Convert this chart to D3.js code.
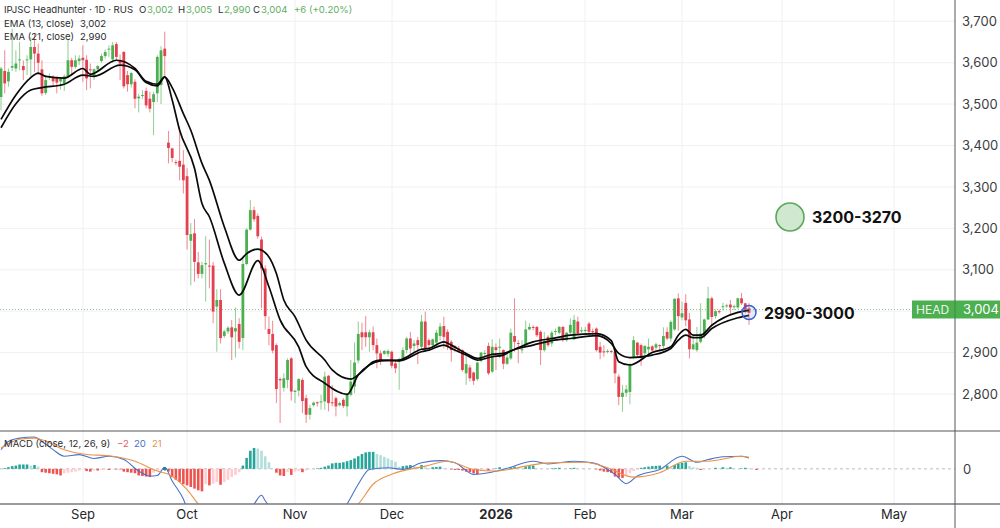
<!DOCTYPE html>
<html><head><meta charset="utf-8">
<script src="https://cdn.jsdelivr.net/npm/d3@7/dist/d3.min.js"></script>
<style>html,body{margin:0;padding:0;background:#fff}svg{display:block}text{font-family:Inter,"Liberation Sans",sans-serif}</style>
</head><body><svg id="c" width="1000" height="528"></svg>
<script>
const opens=[3517,3580,3555,3588,3586,3606,3592,3606,3608,3638,3622,3584,3527,3565,3566,3564,3555,3550,3567,3606,3590,3604,3612,3607,3584,3566,3584,3604,3616,3632,3608,3645,3606,3626,3570,3548,3554,3514,3520,3532,3513,3505,3526,3546,3634,3407,3393,3360,3363,3354,3326,3170,3188,3118,3090,3113,3110,3110,3011,3027,2940,2951,2961,2951,2969,2935,3114,3197,3244,3230,3173,3103,2957,2945,2918,2836,2815,2834,2886,2805,2808,2834,2790,2750,2773,2780,2780,2782,2844,2780,2790,2773,2786,2770,2798,2818,2881,2949,2949,2937,2949,2918,2898,2897,2897,2902,2874,2878,2884,2906,2934,2916,2930,2914,2975,2930,2918,2924,2940,2964,2950,2926,2915,2910,2906,2850,2864,2852,2836,2880,2898,2916,2854,2913,2912,2906,2873,2886,2940,2923,2906,2918,2956,2962,2962,2950,2906,2938,2922,2950,2948,2962,2930,2948,2932,2975,2952,2952,2970,2952,2958,2914,2903,2902,2904,2902,2842,2793,2803,2805,2890,2924,2918,2898,2908,2915,2912,2918,2916,2950,2934,2956,3031,2985,3020,2980,2908,2906,2926,2942,2980,3031,2988,3000,3010,3012,3016,3010,3009,3031,3019,3007];
const highs=[3590,3630,3586,3682,3630,3650,3606,3618,3662,3672,3646,3606,3570,3574,3570,3567,3565,3572,3655,3612,3618,3618,3642,3618,3598,3586,3594,3622,3632,3642,3650,3650,3620,3628,3580,3578,3560,3525,3534,3540,3530,3530,3618,3640,3675,3435,3395,3366,3445,3389,3345,3213,3222,3143,3119,3181,3173,3119,3053,3053,2955,2964,2979,3009,2983,3127,3200,3268,3252,3236,3180,3111,2987,2977,2922,2840,2850,2886,2889,2810,2838,2838,2798,2774,2782,2782,2798,2854,2846,2822,2794,2782,2790,2802,2882,2924,2975,2972,2988,2955,2963,2934,2905,2906,2908,2905,2882,2888,2913,2938,2950,2930,2938,2991,2999,2934,2934,2955,2972,2987,2956,2930,2918,2916,2908,2898,2870,2854,2878,2902,2906,2924,2932,2922,2934,2908,2902,2958,3031,2930,2930,2977,2971,2966,2964,2954,2950,2942,2953,2958,2964,2964,2950,2983,2991,2987,2962,2962,2974,2958,2961,2926,2918,2908,2906,2906,2848,2822,2822,2875,2940,2926,2922,2918,2934,2918,2924,2920,2961,2961,2978,3031,3043,3023,3041,2996,2942,2962,3019,2982,3059,3035,3004,3004,3020,3018,3027,3016,3033,3044,3020,3020];
const lows=[3485,3526,3542,3580,3578,3582,3558,3570,3566,3578,3570,3520,3522,3558,3542,3526,3535,3532,3562,3570,3586,3594,3554,3534,3538,3558,3578,3600,3610,3614,3600,3606,3558,3538,3530,3540,3490,3480,3513,3490,3480,3425,3505,3500,3565,3357,3360,3352,3316,3284,3149,3062,3071,3079,3079,3023,3055,2971,2902,2922,2935,2945,2882,2888,2910,2906,3111,3195,3216,3175,3007,2956,2918,2898,2778,2730,2806,2814,2784,2778,2794,2754,2730,2738,2770,2770,2762,2762,2758,2770,2746,2770,2766,2746,2794,2802,2874,2906,2914,2902,2906,2862,2870,2894,2890,2862,2850,2810,2878,2898,2894,2898,2872,2906,2902,2913,2914,2918,2929,2910,2906,2878,2902,2900,2854,2822,2830,2822,2832,2876,2882,2846,2850,2858,2886,2860,2870,2882,2902,2874,2898,2914,2954,2954,2938,2870,2902,2914,2914,2942,2944,2926,2926,2944,2930,2942,2946,2942,2938,2942,2902,2884,2890,2898,2898,2826,2773,2757,2793,2775,2884,2888,2868,2886,2890,2900,2906,2902,2910,2930,2926,2953,2953,2978,2964,2886,2906,2902,2922,2934,2978,2966,2982,2994,3002,3008,2994,3002,3006,3015,2995,2967];
const closes=[3586,3550,3578,3592,3598,3608,3582,3608,3638,3622,3600,3526,3558,3568,3555,3552,3562,3567,3606,3590,3606,3610,3606,3562,3582,3584,3592,3616,3626,3634,3642,3614,3598,3543,3548,3575,3513,3518,3522,3497,3489,3524,3614,3630,3616,3394,3370,3358,3349,3316,3184,3186,3119,3090,3111,3116,3108,2999,3027,2935,2951,2960,2937,2959,2926,3114,3197,3244,3222,3181,3103,2988,2945,2905,2812,2833,2838,2882,2806,2808,2836,2783,2750,2766,2779,2778,2782,2842,2778,2779,2770,2778,2771,2798,2830,2876,2945,2937,2937,2949,2918,2898,2882,2904,2904,2868,2862,2884,2906,2934,2910,2922,2918,2975,2910,2918,2932,2948,2963,2938,2914,2906,2910,2902,2858,2872,2838,2832,2876,2900,2899,2850,2914,2906,2914,2873,2888,2948,2926,2921,2908,2956,2962,2960,2942,2906,2928,2918,2948,2952,2962,2930,2948,2967,2979,2946,2954,2955,2950,2950,2906,2900,2901,2904,2902,2850,2793,2803,2811,2872,2930,2894,2890,2916,2914,2905,2920,2916,2940,2934,2974,3030,2988,2995,2978,2908,2920,2924,2946,2980,3031,2986,3000,2998,3012,3014,3009,3012,3031,3019,3003,2996];

const ema13Idx=[0,4,8,10,12,17,22,24,31,36,39,42,44,46,48,52,54,56,60,64,69,72,75,80,82,87,93,96,99,102,107,113,115,119,121,125,128,132,135,137,143,148,153,160,164,166,169,175,180,182,184,186,188,191,198,201];
const ema13=[3463,3522,3564,3575,3567,3563,3586,3572,3606,3586,3555,3548,3566,3510,3437,3345,3260,3228,3116,3039,3122,3059,2979,2914,2866,2826,2799,2846,2870,2880,2882,2908,2910,2926,2918,2898,2886,2896,2898,2904,2926,2934,2942,2946,2929,2878,2870,2900,2914,2942,2956,2942,2942,2966,2997,3002];
const ema21Idx=[0,4,8,11,17,22,25,32,36,39,42,44,46,49,51,54,56,60,64,66,69,72,74,76,79,82,87,89,94,97,100,102,107,113,115,119,121,125,128,132,135,137,143,148,153,160,164,166,169,175,180,182,184,186,188,191,198,201];
const ema21=[3443,3501,3534,3540,3548,3570,3567,3594,3583,3552,3544,3565,3540,3477,3437,3357,3316,3204,3123,3139,3150,3131,3091,3027,2987,2930,2882,2858,2836,2854,2878,2882,2880,2902,2906,2918,2910,2894,2882,2890,2894,2904,2918,2929,2934,2941,2922,2898,2888,2894,2910,2930,2942,2936,2936,2958,2984,2990];

const histValues=[0,1.5,3,5,6,8,8,8,6,7,4,-6,-7,-8,-9,-10,-12,-8,-7,-6,-5,-3,-1,-4,-5,-3,-3,-2,-1,-2,-1,-1,-1,-5,-6,-7,-8,-12,-13,-14,-15,-7,-3,-1,-1,-5,-15,-20,-24,-28,-30,-33,-36,-39,-41,-28,-30,-27,-24,-29,-24,-20,-15,-11,-6,6,20,33,38,37,33,23,12,0,-7,-12,-13,-6,-11,-5,-4,-6,-3,-1,0,1,2,4,6,10,11,11,12,14,16,19,23,27,30,31,31,27,25,22,19,16,13,4,5,6,7,5,3,7,3,2,3,3.5,4,1,0,-1,-2,-2,-3,-5,-6,-8,-10,-4,-2,-3,-1,1,3,1,0,3,4,2,1,4,5,6,1,0,0,0,1,1.5,2,0,0,1,2,0,0,0,0,0,-1,-3,-5,-6,-7,-14,-16,-16.5,-12,-8,-4,-1,2,3,4,5,5.5,6,3,6,2,7,10,11,12,5,3,2,-2,-1,0,0,2,1,3,2,3,1,0,1,2,1,0,-2];
const macdIdx=[0,2,5,9,11,14,17,21,25,29,33,37,40,42,44,46,49,50,60,68,70,71,73,80,88,93,96,99,104,108,113,118,122,127,131,136,143,147,154,159,165,168,171,177,183,187,190,194,199,201];
const macdValues=[35,50,56,58,50,35,23,26,19,23,17,-4,-13,-12,3,-22,-55,-71,-120,-64,-48,-58,-75,-130,-100,-64,-28,-1,2,-1,11,15,11,-10,-7,1,14,9,14,11,-10,-27,-13,-1,23,12,17,22,23,20];
const signalIdx=[0,5,9,11,17,22,30,36,42,45,50,53,60,70,80,90,96,100,105,114,120,127,133,141,147,157,163,170,177,184,190,199,201];
const signalValues=[38,54,56,53,35,27,23,14,-4,-10,-38,-64,-100,-105,-100,-85,-64,-28,-10,5,14,-1,-4,5,11,12,2,-15,-7,14,14,23,21];

const priceTicks=[2800,2900,3000,3100,3200,3300,3400,3500,3600,3700];
const monthLabels=["Sep","Oct","Nov","Dec","2026","Feb","Mar","Apr","May"];
const target=[3235,"3200-3270"];const stop=[2990,"2990-3000"];
const lastPrice=3004;

const svg=d3.select("#c");
const x=d3.scaleLinear().domain([0,201]).range([1,749]);
const y=d3.scaleLinear().domain([2800,3700]).range([394,21.3]);
const ym=d3.scaleLinear().domain([-64,69]).range([504,431]);
const GREEN="#4caf50",RED="#e5404f";
const monthX=[83,187,295,392,496,585,682,782,894];

const grid=svg.append("g").attr("stroke","#f0f0f3").attr("stroke-width",1);
priceTicks.forEach(t=>grid.append("line").attr("x1",0).attr("x2",955).attr("y1",y(t)).attr("y2",y(t)));
monthX.forEach(mx=>grid.append("line").attr("x1",mx).attr("x2",mx).attr("y1",0).attr("y2",504));
svg.append("line").attr("x1",0).attr("x2",912).attr("y1",y(lastPrice)).attr("y2",y(lastPrice))
 .attr("stroke","#8fbf8f").attr("stroke-width",1).attr("stroke-dasharray","1 2");

const candles=d3.range(opens.length).map(i=>({i,o:opens[i],h:highs[i],l:lows[i],c:closes[i]}));
const g=svg.append("g");
g.selectAll("line.w").data(candles).join("line").attr("class","w")
 .attr("x1",d=>x(d.i)).attr("x2",d=>x(d.i)).attr("y1",d=>y(d.h)).attr("y2",d=>y(d.l))
 .attr("stroke",d=>d.c>=d.o?GREEN:RED).attr("stroke-opacity",.62).attr("stroke-width",1);
g.selectAll("rect").data(candles).join("rect")
 .attr("x",d=>x(d.i)-1.4).attr("width",2.8)
 .attr("y",d=>y(Math.max(d.o,d.c))).attr("height",d=>Math.max(1,Math.abs(y(d.o)-y(d.c))))
 .attr("fill",d=>d.c>=d.o?GREEN:RED);

const emaLine=d3.line().x(d=>x(d[0])).y(d=>y(d[1])).curve(d3.curveMonotoneX);
[[ema13Idx,ema13],[ema21Idx,ema21]].forEach(([ix,v])=>
 svg.append("path").attr("d",emaLine(ix.map((k,j)=>[k,v[j]]))).attr("fill","none").attr("stroke","#0a0a0a").attr("stroke-width",1.7));

// price pane annotations
svg.append("circle").attr("cx",790).attr("cy",217).attr("r",14).attr("fill","#cfe8cf").attr("stroke","#5aa85a").attr("stroke-width",1.6);
svg.append("text").attr("x",812).attr("y",222.5).attr("font-size",16).attr("font-weight",700).attr("fill","#111").text(target[1]);
svg.append("circle").attr("cx",749).attr("cy",312.5).attr("r",7).attr("fill","#7f9be0").attr("fill-opacity",.2).attr("stroke","#3a5fcd").attr("stroke-width",1.5);
svg.append("text").attr("x",764).attr("y",319).attr("font-size",15.8).attr("font-weight",700).attr("fill","#111").text(stop[1]);

// MACD pane
svg.append("clipPath").attr("id","m").append("rect").attr("x",0).attr("y",431).attr("width",955).attr("height",73);
svg.append("line").attr("x1",0).attr("x2",955).attr("y1",ym(0)).attr("y2",ym(0)).attr("stroke","#b9bcc2").attr("stroke-width",1).attr("stroke-dasharray","3 3");
const histColor=(v,p)=>v>=0?(v>=p?"#26a69a":"#b2dfdb"):(v<=p?"#ef5350":"#ffcdd2");
svg.append("g").selectAll("rect").data(histValues).join("rect")
 .attr("x",(d,i)=>x(i)-1.3).attr("width",2.6)
 .attr("y",d=>Math.min(ym(d),ym(0))).attr("height",d=>Math.abs(ym(d)-ym(0)))
 .attr("fill",(d,i)=>histColor(d,i?histValues[i-1]:0));
const mLine=d3.line().x(d=>x(d[0])).y(d=>ym(d[1])).curve(d3.curveMonotoneX);
const mg=svg.append("g").attr("clip-path","url(#m)");
mg.append("path").attr("d",mLine(macdIdx.map((k,j)=>[k,macdValues[j]]))).attr("fill","none").attr("stroke","#4a72c8").attr("stroke-width",1.1);
mg.append("path").attr("d",mLine(signalIdx.map((k,j)=>[k,signalValues[j]]))).attr("fill","none").attr("stroke","#e8954a").attr("stroke-width",1.1);
svg.append("circle").attr("cx",x(44)).attr("cy",ym(0)).attr("r",1.8).attr("fill","#26808f");

// frames
svg.append("line").attr("x1",0).attr("x2",1000).attr("y1",431).attr("y2",431).attr("stroke","#55565a").attr("stroke-width",1.2);
svg.append("line").attr("x1",0).attr("x2",1000).attr("y1",504).attr("y2",504).attr("stroke","#77787c").attr("stroke-width",1.5);
svg.append("line").attr("x1",955).attr("x2",955).attr("y1",0).attr("y2",528).attr("stroke","#55565a").attr("stroke-width",1);

// axes
const ay=svg.append("g").attr("transform","translate(955,0)").call(d3.axisRight(y).tickValues(priceTicks).tickSize(0).tickPadding(7).tickFormat(d3.format(",")));
ay.select(".domain").remove();
ay.selectAll("text").attr("font-size",13).attr("fill","#3c3d42").style("font-family","Inter");
const xt=svg.append("g");
monthLabels.forEach((m,k)=>xt.append("text").attr("x",monthX[k]).attr("y",518.5).attr("text-anchor","middle")
 .attr("font-size",13).attr("font-weight",m==="2026"?700:400).attr("fill","#26272b").text(m));

// price tag
svg.append("rect").attr("x",912).attr("y",300.5).attr("width",88).attr("height",18).attr("fill","#4caf50");
svg.append("line").attr("x1",955).attr("x2",955).attr("y1",300.5).attr("y2",318.5).attr("stroke","#3c8a40").attr("stroke-width",1);
svg.append("text").attr("x",916).attr("y",314).attr("font-size",12).attr("fill","#eaf6ea").text("HEAD");
svg.append("text").attr("x",963).attr("y",314).attr("font-size",13).attr("fill","#fff").text(d3.format(",")(lastPrice));
svg.append("text").attr("x",963).attr("y",474).attr("font-size",13).attr("fill","#3c3d42").text("0");

// legends
const legend=(px,py,t,col)=>svg.append("text").attr("x",px).attr("y",py).attr("font-size",9.6).attr("fill",col||"#2c2d31").text(t);
const G2="#5fae63";
legend(4,13,"IPJSC Headhunter · 1D · RUS");
legend(139,13,"O");legend(147,13,"3,002",G2);
legend(178,13,"H");legend(186,13,"3,005",G2);
legend(218,13,"L");legend(224,13,"2,990",G2);
legend(253,13,"C");legend(261,13,"3,004",G2);
legend(294,13,"+6 (+0.20%)",G2);
legend(4,27,"EMA (13, close)");legend(80,27,"3,002");
legend(4,40,"EMA (21, close)");legend(80,40,"2,990");
legend(4,447,"MACD (close, 12, 26, 9)");
legend(117,447,"−2","#e5606a");legend(134,447,"20","#4a72c8");legend(152,447,"21","#e8954a");
</script></body></html>
